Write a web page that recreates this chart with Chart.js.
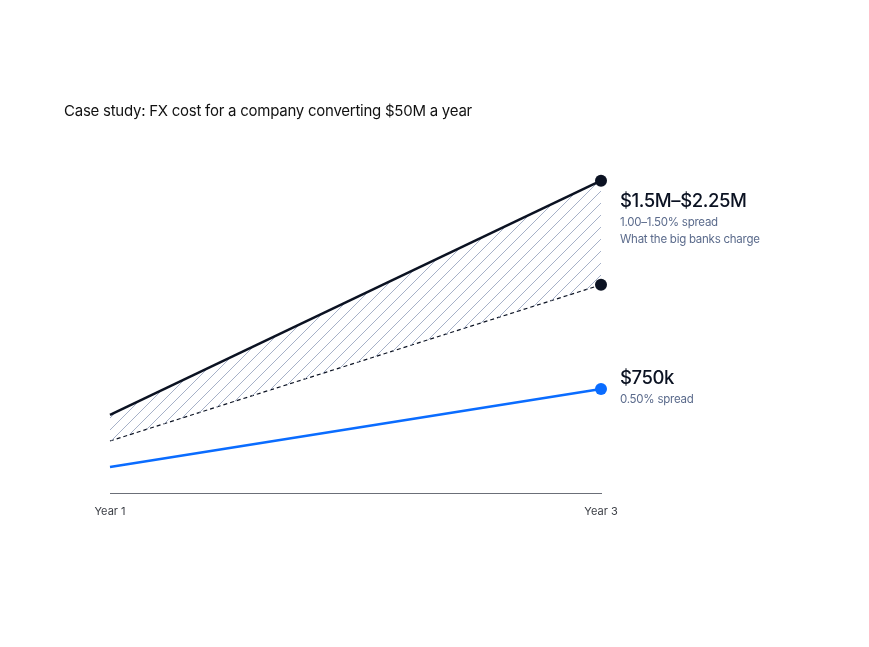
<!DOCTYPE html>
<html>
<head>
<meta charset="utf-8">
<script src="https://cdn.jsdelivr.net/npm/chart.js@4.4.1/dist/chart.umd.min.js"></script>
<style>
    html, body { margin: 0; padding: 0; background: #fff; }
    #wrap { position: relative; width: 869px; height: 647px; font-family: Inter, "Noto Sans", sans-serif; }
    #title { position: absolute; left: 64px; top: 101px; font-size: 15px; color: #111; letter-spacing: -0.25px; }
    #fxChart { position: absolute; left: 0; top: 0; }
</style>
</head>
<body>
<div id="wrap">
    <canvas id="fxChart" width="869" height="647"></canvas>
    <div id="title">Case study: FX cost for a company converting $50M a year</div>
</div>
<script>
const years = ["Year 1", "Year 3"];
// cost in $M
const bigBankHigh = [0.5625, 2.25];
const bigBankLow = [0.375, 1.5];
const lowSpread = [0.1875, 0.75];

const dark = "#0b1222";
const blue = "#0a6cff";
const slate = "#5b6b8c";

function makeHatch() {
    const c = document.createElement("canvas");
    c.width = 12;
    c.height = 12;
    const g = c.getContext("2d");
    g.strokeStyle = "#a6b1c8";
    g.lineWidth = 1;
    g.beginPath();
    g.moveTo(-1, 13); g.lineTo(13, -1);
    g.moveTo(-7, 7); g.lineTo(7, -7);
    g.moveTo(5, 19); g.lineTo(19, 5);
    g.stroke();
    return g.createPattern(c, "repeat");
}

const labelsPlugin = {
    id: "endLabels",
    afterDatasetsDraw(chart) {
        const ctx = chart.ctx;
        const x = chart.scales.x.getPixelForValue(1) + 19;
        const y = chart.scales.y;
        const yTop = y.getPixelForValue(bigBankHigh[1]);
        const yLow = y.getPixelForValue(lowSpread[1]);
        ctx.save();
        ctx.textBaseline = "middle";
        ctx.textAlign = "left";
        ctx.fillStyle = dark;
        ctx.font = "500 18.5px Inter, 'Noto Sans', sans-serif";
        ctx.letterSpacing = "-0.4px";
        ctx.fillText("$1.5M–$2.25M", x, yTop + 21);
        ctx.fillText("$750k", x, yLow - 10);
        ctx.fillStyle = slate;
        ctx.font = "11.5px Inter, 'Noto Sans', sans-serif";
        ctx.letterSpacing = "-0.25px";
        ctx.fillText("1.00–1.50% spread", x, yTop + 42);
        ctx.fillText("What the big banks charge", x, yTop + 59);
        ctx.fillText("0.50% spread", x, yLow + 11);
        ctx.restore();
    }
};

const ctx = document.getElementById("fxChart").getContext("2d");
new Chart(ctx, {
    type: "line",
    data: {
        labels: years,
        datasets: [
            {
                label: "Big banks (1.50%)",
                data: bigBankHigh,
                borderColor: dark,
                borderWidth: 2.5,
                backgroundColor: makeHatch(),
                fill: "+1",
                pointRadius: [0, 6],
                pointBackgroundColor: dark,
                pointBorderWidth: 0,
            },
            {
                label: "Big banks (1.00%)",
                data: bigBankLow,
                borderColor: dark,
                borderWidth: 1.2,
                borderDash: [4, 3],
                fill: false,
                pointRadius: [0, 6],
                pointBackgroundColor: dark,
                pointBorderWidth: 0,
            },
            {
                label: "0.50% spread",
                data: lowSpread,
                borderColor: blue,
                borderWidth: 2.5,
                fill: false,
                pointRadius: [0, 6],
                pointBackgroundColor: blue,
                pointBorderWidth: 0,
            },
        ],
    },
    options: {
        responsive: false,
        animation: false,
        clip: false,
        layout: { padding: { left: 110, right: 268, top: 146, bottom: 124 } },
        plugins: { legend: { display: false }, tooltip: { enabled: false } },
        scales: {
            x: {
                offset: false,
                grid: { display: false, drawTicks: false },
                border: { display: true, color: "#6b6f78", width: 1 },
                ticks: { color: "#3a3d44", padding: 12, font: { family: "Inter", size: 11 }, maxRotation: 0 },
                afterFit(scale) { scale.height = 30; },
            },
            y: {
                display: false,
                min: 0,
                max: 2.5,
            },
        },
    },
    plugins: [labelsPlugin],
});
</script>
</body>
</html>
